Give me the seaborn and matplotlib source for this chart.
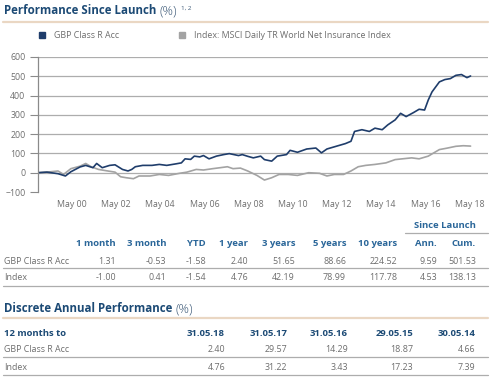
import pandas as pd
import numpy as np
import matplotlib.pyplot as plt
import matplotlib.dates as mdates
from matplotlib.lines import Line2D
import seaborn as sns

# -----------------------------
# DATA
# -----------------------------
fund_name = "GBP Class R Acc"
index_name = "Index: MSCI Daily TR World Net Insurance Index"

fund_dates = ["1998-11-01", "1999-04-01", "1999-10-01", "2000-02-01", "2000-05-01",
              "2000-10-01", "2001-01-01", "2001-05-01", "2001-07-01", "2001-10-01",
              "2002-02-01", "2002-05-01", "2002-09-01", "2002-12-01", "2003-02-01",
              "2003-04-01", "2003-08-01", "2004-01-01", "2004-05-01", "2004-09-01",
              "2005-02-01", "2005-05-01", "2005-07-01", "2005-10-01", "2005-12-01",
              "2006-03-01", "2006-05-01", "2006-08-01", "2006-12-01", "2007-04-01",
              "2007-07-01", "2007-12-01", "2008-02-01", "2008-05-01", "2008-08-01",
              "2008-12-01", "2009-02-01", "2009-06-01", "2009-09-01", "2010-02-01",
              "2010-04-01", "2010-08-01", "2011-01-01", "2011-06-01", "2011-09-01",
              "2011-12-01", "2012-05-01", "2012-10-01", "2013-01-01", "2013-03-01",
              "2013-07-01", "2013-11-01", "2014-02-01", "2014-06-01", "2014-09-01",
              "2015-01-01", "2015-04-01", "2015-07-01", "2015-11-01", "2016-02-01",
              "2016-05-01", "2016-07-01", "2016-09-01", "2017-01-01", "2017-04-01",
              "2017-07-01", "2017-10-01", "2018-01-01", "2018-04-01", "2018-05-31"]
fund_values = [0, 3, -5, -17, 5,
               30, 38, 26, 48, 26,
               38, 41, 17, 9, 17,
               31, 38, 38, 43, 38,
               46, 51, 72, 69, 86,
               82, 89, 72, 86, 94,
               99, 89, 94, 85, 77,
               86, 68, 60, 86, 94,
               116, 106, 123, 128, 103,
               123, 137, 151, 163, 214,
               223, 214, 231, 223, 248,
               274, 308, 291, 312, 329,
               325, 377, 419, 471, 483,
               488, 505, 509, 493, 501.5]

index_dates = ["1998-11-01", "1999-06-01", "1999-10-01", "2000-01-01", "2000-05-01",
               "2000-10-01", "2001-01-01", "2001-04-01", "2001-08-01", "2002-01-01",
               "2002-05-01", "2002-08-01", "2002-11-01", "2003-03-01", "2003-06-01",
               "2003-12-01", "2004-05-01", "2004-10-01", "2005-04-01", "2005-08-01",
               "2006-01-01", "2006-05-01", "2006-10-01", "2007-02-01", "2007-06-01",
               "2007-09-01", "2008-01-01", "2008-05-01", "2008-10-01", "2009-02-01",
               "2009-06-01", "2009-10-01", "2010-03-01", "2010-08-01", "2011-02-01",
               "2011-08-01", "2011-12-01", "2012-04-01", "2012-09-01", "2013-01-01",
               "2013-05-01", "2013-09-01", "2014-02-01", "2014-08-01", "2015-01-01",
               "2015-05-01", "2015-10-01", "2016-02-01", "2016-07-01", "2016-10-01",
               "2017-01-01", "2017-05-01", "2017-10-01", "2018-02-01", "2018-05-31"]
index_values = [0, 5, 9, -9, 21,
                34, 48, 31, 17, 9,
                3, -21, -26, -31, -17,
                -17, -9, -14, -3, 3,
                17, 14, 21, 26, 31,
                21, 24, 9, -14, -38,
                -26, -9, -9, -14, 0,
                -3, -17, -9, -9, 9,
                31, 38, 43, 51, 68,
                72, 77, 72, 86, 103,
                120, 127, 137, 140, 138]

# cumulative table
cum_columns = ["1 month", "3 month", "YTD", "1 year", "3 years", "5 years",
               "10 years", "Ann.", "Cum."]
cum_fund = ["1.31", "-0.53", "-1.58", "2.40", "51.65", "88.66", "224.52", "9.59", "501.53"]
cum_index = ["-1.00", "0.41", "-1.54", "4.76", "42.19", "78.99", "117.78", "4.53", "138.13"]

# discrete table
disc_columns = ["31.05.18", "31.05.17", "31.05.16", "29.05.15", "30.05.14"]
disc_fund = ["2.40", "29.57", "14.29", "18.87", "4.66"]
disc_index = ["4.76", "31.22", "3.43", "17.23", "7.39"]

# -----------------------------
# STYLE
# -----------------------------
sns.set_style("white")
plt.rcParams['font.family'] = ['Open Sans', 'DejaVu Sans']

navy = "#1f3d6b"
grey_line = "#a3a3a3"
title_blue = "#1c4a75"
head_blue = "#2a6699"
text_grey = "#6e6e6e"
beige = "#ead7c3"
rule_grey = "#adadad"

W, H = 490, 378


def fx(x):
    return x / W


def fy(y):
    return 1 - y / H


fig = plt.figure(figsize=(4.9, 3.78), dpi=100)
renderer = fig.canvas.get_renderer()

# -----------------------------
# LINE CHART
# -----------------------------
df = pd.concat([
    pd.DataFrame({"Date": pd.to_datetime(index_dates), "Value": index_values, "Series": index_name}),
    pd.DataFrame({"Date": pd.to_datetime(fund_dates), "Value": fund_values, "Series": fund_name}),
])

ax = fig.add_axes([fx(38), fy(192), fx(488) - fx(38), fy(57) - fy(192)])
sns.lineplot(data=df, x="Date", y="Value", hue="Series",
             hue_order=[index_name, fund_name],
             palette={index_name: grey_line, fund_name: navy},
             linewidth=1.2, legend=False, ax=ax)

ax.set_xlim(pd.Timestamp("1998-11-05"), pd.Timestamp("2019-03-15"))
ax.set_ylim(-100, 600)
ax.set_yticks(range(-100, 700, 100))
ax.set_xticks(pd.to_datetime([f"{y}-05-15" for y in range(2000, 2019, 2)]))
ax.xaxis.set_major_formatter(mdates.DateFormatter("May %y"))
ax.set_xlabel("")
ax.set_ylabel("")
for v in range(0, 700, 100):
    ax.axhline(v, color=rule_grey, lw=0.9, zorder=0)
for s in ["top", "right", "bottom"]:
    ax.spines[s].set_visible(False)
ax.spines["left"].set_color("#8a8a8a")
ax.spines["left"].set_linewidth(0.9)
ax.tick_params(axis="y", length=6, width=0.8, color="#8a8a8a", pad=3,
               labelsize=6.3, labelcolor=text_grey, left=True)
ax.tick_params(axis="x", length=0, pad=6, labelsize=6.3, labelcolor=text_grey)


# -----------------------------
# TITLES + LEGEND
# -----------------------------
def section_title(y, text, sup=None):
    t = fig.text(fx(4), fy(y), text, fontsize=8.3, fontweight="bold",
                 color=title_blue, va="center")
    x_end = t.get_window_extent(renderer).x1 + 3
    p = fig.text(x_end / W, fy(y), "(%)", fontsize=9.4, fontweight="light",
                 color="#3d5a78", va="center")
    if sup:
        x_sup = p.get_window_extent(renderer).x1 + 4
        fig.text(x_sup / W, fy(y - 3), sup, fontsize=4.5, color="#3d5a78", va="center")


def hrule(y, x0=3, x1=488, color=rule_grey, lw=0.9):
    fig.add_artist(Line2D([fx(x0), fx(x1)], [fy(y), fy(y)], color=color, lw=lw,
                          transform=fig.transFigure))


section_title(11, "Performance Since Launch", "1, 2")
hrule(22, color=beige, lw=1.6)

fig.add_artist(Line2D([fx(42)], [fy(35)], marker="s", markersize=4.2, color=navy,
                      transform=fig.transFigure))
fig.text(fx(54), fy(35), fund_name, fontsize=6.4, color=text_grey, va="center")
fig.add_artist(Line2D([fx(182)], [fy(35)], marker="s", markersize=4.2, color=grey_line,
                      transform=fig.transFigure))
fig.text(fx(194), fy(35), index_name, fontsize=6.4, color=text_grey, va="center")

# -----------------------------
# CUMULATIVE TABLE
# -----------------------------
cum_right = [116, 166, 206, 248, 295, 346, 397, 437, 476]

fig.text(fx(476), fy(226), "Since Launch", fontsize=6.8, fontweight="bold",
         color=head_blue, ha="right", va="center")
hrule(233, 405, 488)

for col, xr in zip(cum_columns, cum_right):
    fig.text(fx(xr), fy(244), col, fontsize=6.8, fontweight="bold",
             color=head_blue, ha="right", va="center")

fig.text(fx(4), fy(261), fund_name, fontsize=6.4, color=text_grey, va="center")
fig.text(fx(4), fy(278), "Index", fontsize=6.4, color=text_grey, va="center")
for val, xr in zip(cum_fund, cum_right):
    fig.text(fx(xr), fy(261), val, fontsize=6.4, color=text_grey, ha="right", va="center")
for val, xr in zip(cum_index, cum_right):
    fig.text(fx(xr), fy(278), val, fontsize=6.4, color=text_grey, ha="right", va="center")
hrule(268)
hrule(286)

# -----------------------------
# DISCRETE TABLE
# -----------------------------
section_title(309, "Discrete Annual Performance")
hrule(318, color=beige, lw=1.6)

disc_right = [225, 287, 348, 413, 475]
fig.text(fx(4), fy(333), "12 months to", fontsize=6.8, fontweight="bold",
         color=title_blue, va="center")
for col, xr in zip(disc_columns, disc_right):
    fig.text(fx(xr), fy(333), col, fontsize=6.8, fontweight="bold",
             color=title_blue, ha="right", va="center")

fig.text(fx(4), fy(350), fund_name, fontsize=6.4, color=text_grey, va="center")
fig.text(fx(4), fy(367), "Index", fontsize=6.4, color=text_grey, va="center")
for val, xr in zip(disc_fund, disc_right):
    fig.text(fx(xr), fy(350), val, fontsize=6.4, color=text_grey, ha="right", va="center")
for val, xr in zip(disc_index, disc_right):
    fig.text(fx(xr), fy(367), val, fontsize=6.4, color=text_grey, ha="right", va="center")
hrule(357)
hrule(375)

fig.savefig("out.png", dpi=100)
